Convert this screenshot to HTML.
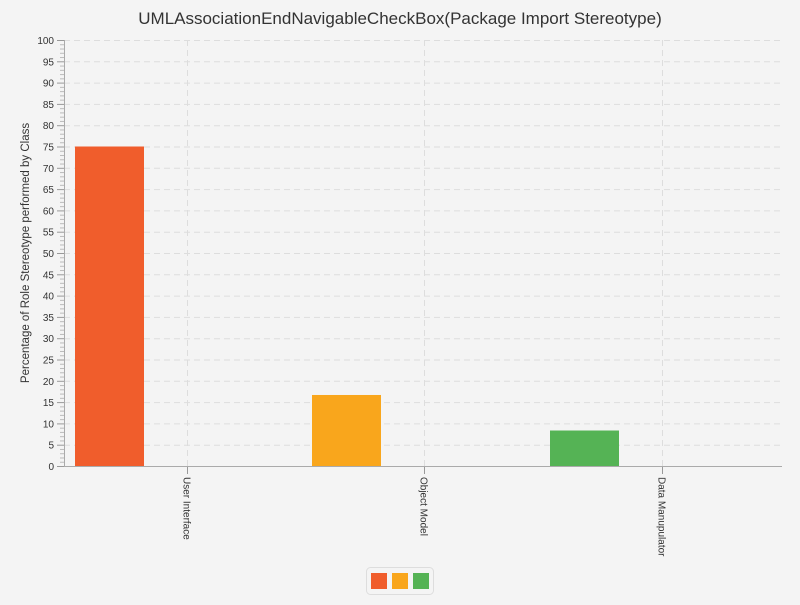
<!DOCTYPE html>
<html><head><meta charset="utf-8"><style>
body{margin:0;background:#f4f4f4;font-family:"Liberation Sans",sans-serif;}
</style></head><body>
<svg width="800" height="600" xmlns="http://www.w3.org/2000/svg">
<rect width="800" height="600" fill="#f4f4f4"/>
<text x="400" y="24" text-anchor="middle" font-size="17" fill="#333">UMLAssociationEndNavigableCheckBox(Package Import Stereotype)</text>
<text transform="translate(29,253) rotate(-90)" text-anchor="middle" font-size="11.5" fill="#333">Percentage of Role Stereotype performed by Class</text>
<g id="grid"></g><g id="bars"></g><g id="axes"></g>
<g>
<rect x="366.5" y="567.5" width="67" height="27" rx="4" fill="#f4f4f4" stroke="#ddd"/>
<rect x="371" y="573" width="16" height="16" fill="#f05d2c"/>
<rect x="392" y="573" width="16" height="16" fill="#f9a61c"/>
<rect x="413" y="573" width="16" height="16" fill="#55b355"/>
</g>
</svg>
<script>
const categories=["User Interface","Object Model","Data Manupulator"];
const values=[75,16.67,8.33];
const colors=["#f05d2c","#f9a61c","#55b355"];
const yTicks=[0,5,10,15,20,25,30,35,40,45,50,55,60,65,70,75,80,85,90,95,100];
const X0=64,X1=782,Y0=466,Y1=40;
const C0=68,CW=237.4;
const NS="http://www.w3.org/2000/svg";
function y(v){return Y0-(v/100)*(Y0-Y1);}
function xc(i){return C0+CW*i;}
function mk(t,a,p){const e=document.createElementNS(NS,t);for(const k in a)e.setAttribute(k,a[k]);p.appendChild(e);return e;}
const grid=document.getElementById('grid'),bars=document.getElementById('bars'),axes=document.getElementById('axes');
yTicks.forEach(v=>{if(v>0){const l=mk('line',{x1:X0,x2:X1,y1:y(v)+.5,y2:y(v)+.5,stroke:'#ddd','stroke-dasharray':'6,4'},grid);

}
mk('line',{x1:57,x2:X0,y1:y(v)+.5,y2:y(v)+.5,stroke:'#999'},axes);
const t=mk('text',{x:54,y:y(v)+4,'text-anchor':'end','font-size':10,fill:'#333'},axes);t.textContent=v;

});
for(let v=0;v<100;v++){if(v%5)mk('line',{x1:60,x2:X0,y1:y(v)+.5,y2:y(v)+.5,stroke:'#bbb'},axes);}
categories.forEach((c,i)=>{const cx=Math.round(xc(i)+CW/2)+.5;
const g=mk('line',{x1:cx,x2:cx,y1:Y1,y2:Y0,stroke:'#ddd','stroke-dasharray':'6,4'},grid);


const b=mk('rect',{x:Math.round(xc(i)+7),y:y(values[i]),width:69,height:Y0-y(values[i]),fill:colors[i]},bars);


mk('line',{x1:cx,x2:cx,y1:Y0,y2:Y0+8,stroke:'#999'},axes);
const t=mk('text',{transform:`translate(${cx-4},${Y0+11}) rotate(90)`,'font-size':10,fill:'#333'},axes);t.textContent=c;

});
mk('line',{x1:X0+.5,x2:X0+.5,y1:Y1,y2:Y0,stroke:'#aaa'},axes);
mk('line',{x1:X0,x2:X1,y1:Y0+.5,y2:Y0+.5,stroke:'#aaa'},axes);
</script>
</body></html>
